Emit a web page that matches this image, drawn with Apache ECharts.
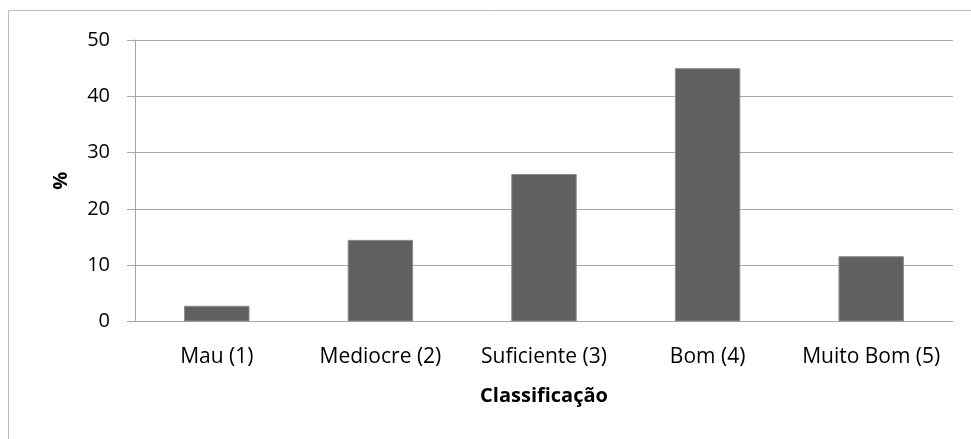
<!DOCTYPE html>
<html><head><meta charset="utf-8">
<script src="https://cdn.jsdelivr.net/npm/echarts@6/dist/echarts.min.js"></script>
<style>html,body{margin:0;padding:0;background:#fff}#c{width:971px;height:439px}</style>
</head><body><div id="c"></div>
<script>
const categories = ['Mau (1)', 'Mediocre (2)', 'Suficiente (3)', 'Bom (4)', 'Muito Bom (5)'];
const values = [2.8, 14.5, 26.2, 45, 11.6];
const yTicks = [0, 10, 20, 30, 40, 50];

const chart = echarts.init(document.getElementById('c'));
chart.setOption({
  animation: false,
  graphic: [{
    type: 'rect', shape: {x: 8.5, y: 10.5, width: 1000, height: 1000},
    style: {fill: 'none', stroke: '#bdbdbd', lineWidth: 1}, silent: true, z: -1
  }],
  grid: {left: 135, right: 18, top: 40, bottom: 117.5},
  xAxis: {
    type: 'category', data: categories,
    axisLine: {lineStyle: {color: '#a6a6a6', width: 1}},
    axisTick: {show: false},
    axisLabel: {color: '#000', fontSize: 21, fontFamily: 'Open Sans', margin: 25, interval: 0, hideOverlap: false},
    name: 'Classificação', nameLocation: 'middle', nameGap: 65,
    nameTextStyle: {color: '#000', fontSize: 20, fontWeight: 'bold', fontFamily: 'Open Sans'}
  },
  yAxis: {
    type: 'value', min: 0, max: 50, interval: 10,
    axisLine: {show: true, lineStyle: {color: '#a6a6a6', width: 1}},
    axisTick: {show: true, length: 8, lineStyle: {color: '#a6a6a6'}},
    splitLine: {lineStyle: {color: '#a6a6a6', width: 1}},
    axisLabel: {color: '#000', fontSize: 20, fontFamily: 'Open Sans', margin: 25,
      formatter: v => yTicks.includes(v) ? String(v) : ''},
    name: '%', nameLocation: 'middle', nameGap: 64, nameRotate: 90,
    nameTextStyle: {color: '#000', fontSize: 20, fontWeight: 'bold', fontFamily: 'Open Sans'}
  },
  series: [{
    type: 'bar', data: values, barWidth: '40%',
    itemStyle: {color: '#606060', borderColor: '#8c8c8c', borderWidth: 1}
  }]
});
</script></body></html>
